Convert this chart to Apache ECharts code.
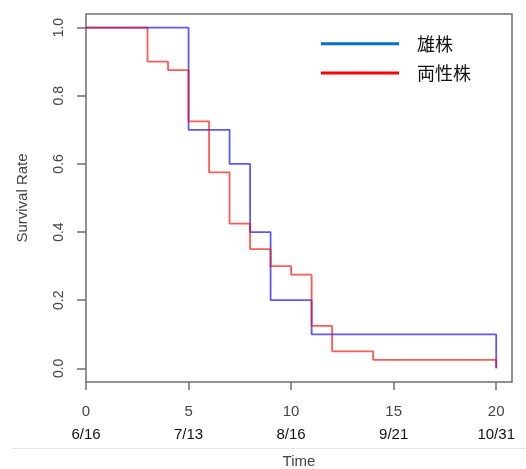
<!DOCTYPE html>
<html>
<head>
<meta charset="utf-8">
<script src="https://cdn.jsdelivr.net/npm/echarts@6/dist/echarts.min.js"></script>
<style>html,body{margin:0;padding:0;background:#fff}#c{width:526px;height:469px}</style>
</head>
<body>
<div id="c"></div>
<script>
// Step points (time index, survival rate)
const maleTimes = [0, 5, 7, 8, 9, 11, 20];
const maleSurv  = [1.0, 0.7, 0.6, 0.4, 0.2, 0.1, 0.0];
const hermTimes = [0, 3, 4, 5, 6, 7, 8, 9, 10, 11, 12, 14, 20];
const hermSurv  = [1.0, 0.9, 0.875, 0.725, 0.575, 0.425, 0.35, 0.3, 0.275, 0.125, 0.05, 0.025, 0.0];
const xTicks = [0, 5, 10, 15, 20];
const xDates = ['6/16', '7/13', '8/16', '9/21', '10/31'];
const yTicks = [0, 0.2, 0.4, 0.6, 0.8, 1.0];
const seriesNames = ['雄株', '両性株'];

const pairs = (t, v) => t.map((x, i) => [x, v[i]]);
const FONT = '"Liberation Sans", Arial, sans-serif';
const CJK = '"Noto Sans CJK JP", "Noto Sans", sans-serif';
const GRAY = '#6e6e6e';

const chart = echarts.init(document.getElementById('c'), null, {renderer: 'canvas'});
chart.setOption({
  animation: false,
  backgroundColor: '#fff',
  grid: {left: 86, top: 14, right: 14, bottom: 87, outerBoundsMode: 'none', containLabel: false,
         show: true, borderColor: GRAY, borderWidth: 1.5, backgroundColor: 'transparent'},
  xAxis: {
    type: 'value', min: 0, max: 20.77,
    axisLine: {show: false, onZero: false},
    splitLine: {show: false},
    axisTick: {show: true, length: 8, inside: false, customValues: xTicks, lineStyle: {color: GRAY, width: 1.5}},
    axisLabel: {
      customValues: xTicks, margin: 18,
      formatter: v => '{n|' + v + '}\n{d|' + xDates[xTicks.indexOf(v)] + '}',
      rich: {
        n: {fontFamily: FONT, fontSize: 15, color: '#444', lineHeight: 23},
        d: {fontFamily: FONT, fontSize: 15, color: '#111', lineHeight: 23}
      }
    },
    name: 'Time', nameLocation: 'middle', nameGap: 72,
    nameTextStyle: {fontFamily: FONT, fontSize: 15, color: '#444'}
  },
  yAxis: {
    type: 'value', min: -0.04, max: 1.04,
    axisLine: {show: false, onZero: false},
    splitLine: {show: false},
    axisTick: {show: true, length: 9, inside: false, customValues: yTicks, lineStyle: {color: GRAY, width: 1.5}},
    axisLabel: {
      customValues: yTicks, rotate: 90, margin: 20,
      formatter: v => v.toFixed(1),
      fontFamily: FONT, fontSize: 14, color: '#444'
    },
    name: 'Survival Rate', nameLocation: 'middle', nameGap: 56, nameRotate: 90,
    nameTextStyle: {fontFamily: FONT, fontSize: 15, color: '#444'}
  },
  legend: [
    {data: [{name: seriesNames[0], itemStyle: {color: '#0070C0'}}], left: 321, top: 33.7, padding: 0, icon: 'rect', itemWidth: 78, itemHeight: 3,
     selectedMode: false, textStyle: {fontFamily: CJK, fontSize: 18, color: '#111', lineHeight: 20, padding: [0, 0, 0, 13]}},
    {data: [{name: seriesNames[1], itemStyle: {color: '#FF0000'}}], left: 321, top: 63, padding: 0, icon: 'rect', itemWidth: 78, itemHeight: 3,
     selectedMode: false, textStyle: {fontFamily: CJK, fontSize: 18, color: '#111', lineHeight: 20, padding: [0, 0, 0, 13]}}
  ],
  graphic: [
    {type: 'line', shape: {x1: 12, y1: 448.5, x2: 526, y2: 448.5}, style: {stroke: '#e4e4e4', lineWidth: 1}, silent: true}
  ],
  series: [
    {name: seriesNames[0], type: 'line', step: 'end', showSymbol: false, symbol: 'none',
     data: pairs(maleTimes, maleSurv), lineStyle: {color: '#0000FF', width: 1.8, opacity: 0.65}, itemStyle: {color: '#0000FF'}},
    {name: seriesNames[1], type: 'line', step: 'end', showSymbol: false, symbol: 'none',
     data: pairs(hermTimes, hermSurv), lineStyle: {color: '#FF0000', width: 1.8, opacity: 0.65}, itemStyle: {color: '#FF0000'}}
  ]
});
</script>
</body>
</html>
